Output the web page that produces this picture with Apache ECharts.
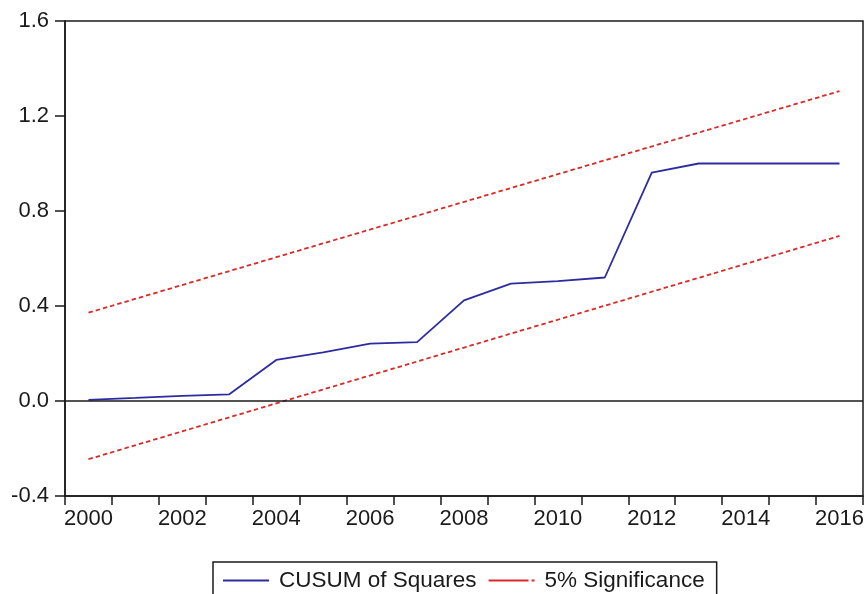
<!DOCTYPE html>
<html>
<head>
<meta charset="utf-8">
<script src="https://cdn.jsdelivr.net/npm/echarts@6/dist/echarts.min.js"></script>
<style>
  html, body { margin: 0; padding: 0; background: #fff; }
  #chart { width: 868px; height: 594px; }
</style>
</head>
<body>
<div id="chart"></div>
<script>
// Years of the recursive residuals
const years = ['2000','2001','2002','2003','2004','2005','2006','2007','2008',
               '2009','2010','2011','2012','2013','2014','2015','2016'];

// CUSUM of squares statistic
const cusumSq = [0.005, 0.013, 0.022, 0.028, 0.173, 0.205, 0.242, 0.248, 0.424,
                 0.494, 0.505, 0.520, 0.962, 1.000, 1.000, 1.000, 1.000];

// 5% significance bounds (straight lines, given by their end values)
const upperBound = [0.372, null, null, null, null, null, null, null, null,
                    null, null, null, null, null, null, null, 1.305];
const lowerBound = [-0.245, null, null, null, null, null, null, null, null,
                    null, null, null, null, null, null, null, 0.695];

const yTicks = { min: -0.4, max: 1.6, step: 0.4 };

const FONT = 'Liberation Sans, Arial, sans-serif';
const INK = '#1a1a1a';
const BLUE = '#2c2ca0';
const RED = '#d92a2a';
const DASH = [4.5, 3];

const chart = echarts.init(document.getElementById('chart'), null, { renderer: 'canvas' });

chart.setOption({
  backgroundColor: '#ffffff',
  animation: false,
  textStyle: { fontFamily: FONT },
  grid: {
    left: 65, right: 5, top: 21, bottom: 98,
    show: true, borderColor: INK, borderWidth: 1.5, backgroundColor: 'transparent'
  },
  legend: {
    left: 213, top: 562,
    padding: [7, 12, 7, 10],
    itemWidth: 46, itemHeight: 2, itemGap: 12,
    borderColor: INK, borderWidth: 1.5,
    textStyle: { fontFamily: FONT, fontSize: 22.5, color: INK, padding: [0, 0, 0, 5] },
    data: [
      { name: 'CUSUM of Squares', icon: 'path://M0,0H46V2H0Z' },
      { name: '5% Significance', icon: 'path://M0,0H40V2H0Z M43,0H46V2H43Z' }
    ]
  },
  xAxis: {
    type: 'category',
    data: years,
    boundaryGap: true,
    axisLine: { onZero: false, lineStyle: { color: INK, width: 1.5 } },
    axisTick: { show: true, inside: false, length: 9, interval: 0, alignWithLabel: false,
                lineStyle: { color: INK, width: 1.5 } },
    axisLabel: { interval: 1, margin: 12, fontFamily: FONT, fontSize: 22, color: INK },
    splitLine: { show: false }
  },
  yAxis: {
    type: 'value',
    min: yTicks.min, max: yTicks.max, interval: yTicks.step,
    axisLine: { show: true, lineStyle: { color: INK, width: 1.5 } },
    axisTick: { show: true, inside: false, length: 10, lineStyle: { color: INK, width: 1.5 } },
    axisLabel: {
      margin: 16, fontFamily: FONT, fontSize: 22, color: INK,
      padding: [0, 0, 6, 0],
      formatter: v => v.toFixed(1)
    },
    splitLine: { show: false }
  },
  series: [
    {
      name: 'CUSUM of Squares',
      type: 'line',
      data: cusumSq,
      symbol: 'none',
      lineStyle: { color: BLUE, width: 1.8 },
      itemStyle: { color: BLUE },
      z: 3,
      markLine: {
        silent: true,
        symbol: 'none',
        label: { show: false },
        lineStyle: { color: INK, width: 1.5, type: 'solid' },
        data: [{ yAxis: 0 }]
      }
    },
    {
      name: '5% Significance',
      type: 'line',
      data: upperBound,
      connectNulls: true,
      symbol: 'none',
      lineStyle: { color: RED, width: 1.8, type: DASH },
      itemStyle: { color: RED },
      z: 2
    },
    {
      name: '5% Significance',
      type: 'line',
      data: lowerBound,
      connectNulls: true,
      symbol: 'none',
      lineStyle: { color: RED, width: 1.8, type: DASH },
      itemStyle: { color: RED },
      z: 2
    }
  ]
});
</script>
</body>
</html>
